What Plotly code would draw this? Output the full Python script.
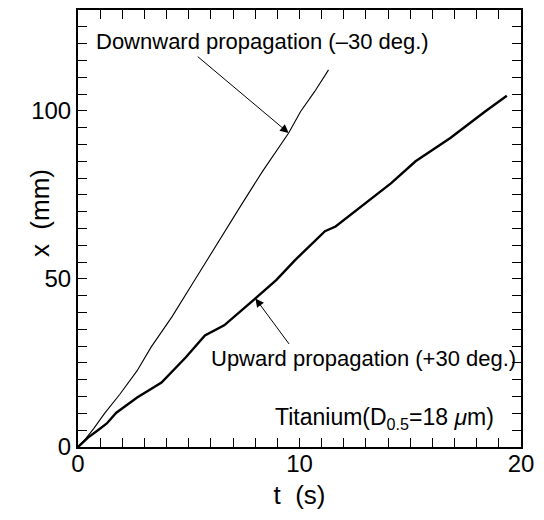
import plotly.graph_objects as go

# Downward propagation (-30 deg.)
t_down = [0, 0.35, 0.70, 1.20, 1.89, 2.67, 3.30, 4.24, 5.18, 5.85, 7.38, 8.33, 9.51, 10.05, 10.68, 11.31]
x_down = [0, 2.5, 5.4, 10.0, 15.7, 22.7, 29.7, 38.7, 48.7, 55.9, 72.1, 82.0, 93.4, 99.8, 105.7, 112.2]

# Upward propagation (+30 deg.)
t_up = [0, 0.45, 0.90, 1.30, 1.73, 2.67, 3.77, 4.87, 5.73, 6.60, 8.01, 8.96, 9.80, 11.15, 11.63,
        12.88, 14.14, 15.24, 16.81, 18.38, 19.36]
x_up = [0, 2.8, 5.0, 7.0, 10.2, 14.7, 19.2, 26.7, 33.2, 36.2, 44.2, 49.7, 55.6, 64.2, 65.6,
        72.1, 78.5, 85.0, 91.9, 99.8, 104.5]

x_major, x_minor = 10, 1
y_major, y_minor = 50, 5

FONT = "Liberation Sans, Arial, sans-serif"

fig = go.Figure()
fig.add_trace(go.Scatter(x=t_down, y=x_down, mode="lines",
                         line=dict(color="black", width=1.1), showlegend=False))
fig.add_trace(go.Scatter(x=t_up, y=x_up, mode="lines",
                         line=dict(color="black", width=2.4), showlegend=False))

# arrows
for (hx, hy, tx, ty) in [(9.51, 93.4, 5.34, 116.5), (8.01, 44.2, 9.58, 30.2)]:
    fig.add_annotation(x=hx, y=hy, ax=tx, ay=ty, xref="x", yref="y", axref="x", ayref="y",
                       text="", showarrow=True, arrowhead=2, arrowsize=1.7, arrowwidth=1,
                       arrowcolor="black")

# texts
fig.add_annotation(x=8.35, y=120.6, xref="x", yref="y", text="Downward propagation (\u201330 deg.)",
                   showarrow=False, font=dict(family=FONT, size=22, color="black"))
fig.add_annotation(x=12.9, y=26.2, xref="x", yref="y", text="Upward propagation (+30 deg.)",
                   showarrow=False, font=dict(family=FONT, size=22, color="black"))
fig.add_annotation(x=13.85, y=8.6, xref="x", yref="y",
                   text="Titanium(D<sub>0.5</sub>=18 <i>\u03bc</i>m)",
                   showarrow=False, font=dict(family=FONT, size=23, color="black"))

# y-axis title placed close to the axis like the reference
fig.add_annotation(x=-0.086, y=0.535, xref="paper", yref="paper", text="x  (mm)", textangle=-90,
                   xanchor="center", yanchor="middle",
                   showarrow=False, font=dict(family=FONT, size=26, color="black"))

tick_common = dict(ticks="inside", ticklen=9, tickwidth=1.3, tickcolor="black",
                   showline=True, linecolor="black", linewidth=2, mirror="ticks",
                   showgrid=False, zeroline=False,
                   tickfont=dict(family=FONT, size=24, color="black"))

fig.update_xaxes(range=[0, 20], tickmode="linear", tick0=0, dtick=x_major,
                 minor=dict(dtick=x_minor, tick0=0, ticks="inside", ticklen=9, tickwidth=1.3,
                            tickcolor="black", showgrid=False),
                 ticklabelstandoff=-6,
                 title=dict(text="t  (s)", font=dict(family=FONT, size=26, color="black"), standoff=10),
                 **tick_common)
fig.update_yaxes(range=[0, 130], tickmode="linear", tick0=0, dtick=y_major,
                 minor=dict(dtick=y_minor, tick0=0, ticks="inside", ticklen=9, tickwidth=1.3,
                            tickcolor="black", showgrid=False),
                 **tick_common)

fig.update_layout(width=544, height=520, margin=dict(l=78, r=23, t=8, b=73),
                  paper_bgcolor="white", plot_bgcolor="white")

fig.write_html("out.html")
